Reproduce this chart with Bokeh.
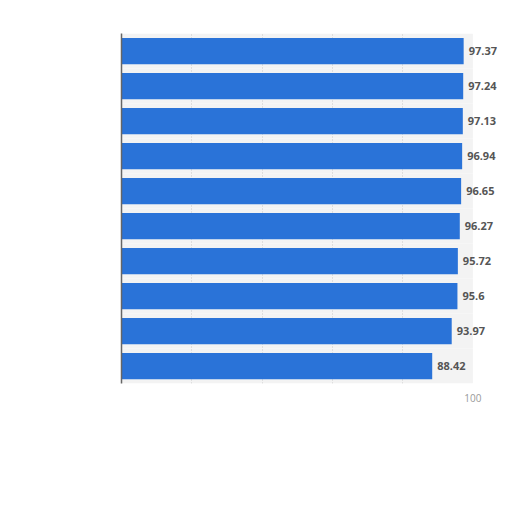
from bokeh.plotting import figure
from bokeh.models import Range1d, FixedTicker, ColumnDataSource
from bokeh.embed import file_html
from bokeh.resources import INLINE
from bokeh.core.properties import value

# Data (category names are illegible there)
positions = [10, 9, 8, 7, 6, 5, 4, 3, 2, 1]
values = [97.37, 97.24, 97.13, 96.94, 96.65, 96.27, 95.72, 95.6, 93.97, 88.42]
value_labels = ["97.37", "97.24", "97.13", "96.94", "96.65", "96.27", "95.72", "95.6", "93.97", "88.42"]
track_max = [100] * 10
x_ticks = [0, 20, 40, 60, 80, 100]
x_tick_labels = {0: "", 20: "", 40: "", 60: "", 80: "", 100: "100"}

src = ColumnDataSource(dict(y=positions, v=values, lab=value_labels, t=track_max))

p = figure(width=502, height=425, output_backend="svg", toolbar_location=None,
           x_range=Range1d(0, 107), y_range=Range1d(0.5, 10.5),
           min_border_left=121, min_border_right=5, min_border_top=33, min_border_bottom=42)
p.outline_line_color = None
p.background_fill_color = "white"

track = p.hbar(y="y", right="t", left=0, height=1.0, source=src,
               fill_color="#f3f3f3", line_color=None)
track.level = "image"

p.hbar(y="y", right="v", left=0, height=0.75, source=src,
       fill_color="#2a73d8", line_color=None)

p.text(x="v", y="y", text="lab", source=src, x_offset=5,
       text_align="left", text_baseline="middle",
       text_font=value("Open Sans"), text_font_size="11px",
       text_font_style="bold", text_color="#555555")

p.xgrid.ticker = FixedTicker(ticks=[20, 40, 60, 80])
p.xgrid.grid_line_color = "#c8c8c8"
p.xgrid.grid_line_dash = "1 2"
p.ygrid.grid_line_color = None

p.xaxis.ticker = FixedTicker(ticks=x_ticks)
p.xaxis.major_label_overrides = x_tick_labels
p.xaxis.axis_line_color = None
p.xaxis.major_tick_line_color = None
p.xaxis.minor_tick_line_color = None
p.xaxis.major_label_text_color = "#999999"
p.xaxis.major_label_text_font = "Open Sans"
p.xaxis.major_label_text_font_size = "10px"
p.xaxis.major_label_standoff = 4

p.yaxis.ticker = FixedTicker(ticks=[])
p.yaxis.axis_line_color = "#666666"
p.yaxis.axis_line_width = 1.5
p.yaxis.major_tick_line_color = None
p.yaxis.minor_tick_line_color = None
p.yaxis.major_label_text_font_size = "0px"

open("out.html", "w").write(file_html(p, INLINE))
